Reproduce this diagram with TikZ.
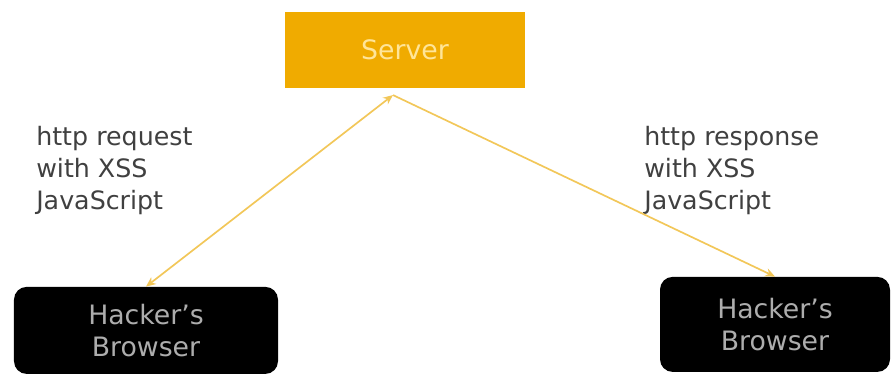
\documentclass[tikz,border=0pt]{standalone}
\usepackage{fontspec}
\setmainfont{DejaVu Sans}
\usetikzlibrary{arrows.meta,
	calc,
	positioning}
\definecolor{amber}{rgb}{0.94, 0.67, 0.0}
\definecolor{paleamber}{rgb}{0.95, 0.78, 0.35}
\definecolor{servertext}{rgb}{1.0, 0.90, 0.60}
\definecolor{browsertext}{rgb}{0.68, 0.68, 0.68}

\begin{document}
\begin{tikzpicture}[>={Stealth[length=7pt,width=6pt]}]
      \tikzstyle{server}=[rectangle,fill=amber,minimum width=6cm,minimum height=1.9cm,text=servertext,font=\fontsize{19}{22}\selectfont]
      \tikzstyle{browser}=[rectangle,rounded corners=9pt,fill=black,text=browsertext,align=center,font=\fontsize{19}{23}\selectfont]
      \tikzstyle{label}=[align=left,anchor=north west,inner sep=0pt,text=black!75,font=\fontsize{18}{22.7}\selectfont]
      \tikzstyle{link}=[color=paleamber,line width=1.2pt]
      \useasboundingbox (0,0) rectangle (22.3,9.4);
      \node[server] (srv) at (10.125,8.15) {Server};
      \node[browser,minimum width=6.6cm,minimum height=2.175cm] (b_1) at (3.65,1.14) {Hacker’s\\Browser};
      \node[browser,minimum width=5.75cm,minimum height=2.375cm] (b_2) at (19.375,1.29) {Hacker’s\\Browser};
      \coordinate (apex) at ($(srv.south)+(-0.3,-0.17)$);
      \node[label] (req) at (0.9,6.25) {http request\\with XSS\\JavaScript};
      \node[label] (resp) at (16.1,6.25) {http response\\with XSS\\JavaScript};
      \draw[link,<->] (apex) -- (b_1.north);
      \draw[link,->] (apex) -- (b_2.north);
\end{tikzpicture}
\end{document}
